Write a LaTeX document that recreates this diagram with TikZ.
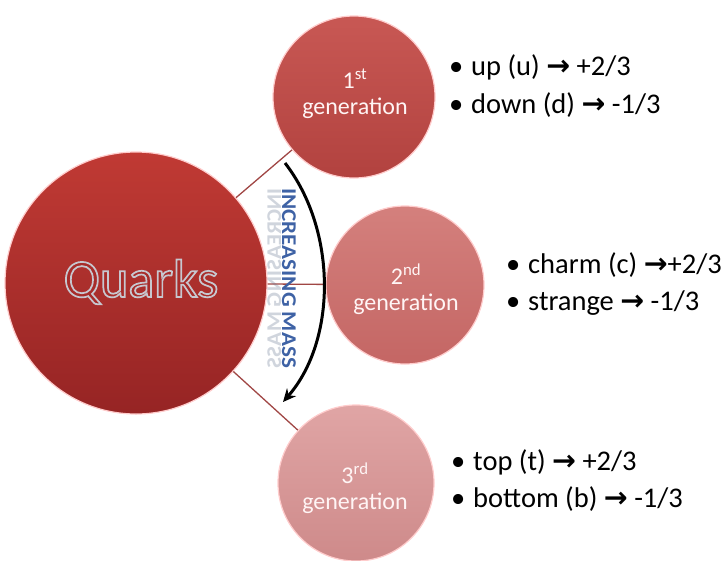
\documentclass[tikz,border=0pt]{standalone}
\usepackage{fontspec}
\setmainfont{Carlito}
\newfontfamily\arrowfont{DejaVu Sans}
\newfontfamily\quarkfont[FakeBold=3.2]{Carlito}
\usepackage{graphicx}
\usetikzlibrary{arrows.meta}
\definecolor{qtop}{RGB}{192,58,52}
\definecolor{qbot}{RGB}{150,36,36}
\definecolor{gAtop}{RGB}{200,88,84}
\definecolor{gAbot}{RGB}{178,66,63}
\definecolor{gBtop}{RGB}{212,128,125}
\definecolor{gBbot}{RGB}{196,102,100}
\definecolor{gCtop}{RGB}{224,165,165}
\definecolor{gCbot}{RGB}{206,138,138}
\definecolor{connred}{RGB}{160,70,68}
\definecolor{massblue}{RGB}{62,98,165}
\definecolor{quarkfill}{RGB}{168,44,42}
\newcommand{\arr}{{\arrowfont\bfseries →}}
\newcommand{\bul}{\makebox[22pt][l]{•}}
\newcommand{\outlinetext}[1]{{\quarkfont\textcolor{quarkfill}{\special{pdf:literal direct 0.78 0.78 0.81 RG}#1}}}
\begin{document}
\begin{tikzpicture}[x=1pt,y=-1pt,
  ball/.style={circle, inner sep=0pt, draw=white!80!red, line width=1.2pt,
    align=center, text=white!96!red, font=\fontsize{24}{26}\selectfont},
  conn/.style={draw=connred, line width=1.3pt},
  item/.style={anchor=base west, inner sep=0pt, font=\fontsize{28.5}{30}\selectfont},
  masstext/.style={rotate=-90, anchor=base, inner sep=0pt,
    font=\bfseries\fontsize{21}{21}\selectfont},
]
\useasboundingbox (0,0) rectangle (727,560);

% circles
\node[ball, minimum size=262pt, top color=qtop, bottom color=qbot] (q) at (136,283) {};
\node[ball, minimum size=162pt, top color=gAtop, bottom color=gAbot] (g1) at (354,97) {};
\node[ball, minimum size=158pt, top color=gBtop, bottom color=gBbot] (g2) at (405,285) {};
\node[ball, minimum size=156pt, top color=gCtop, bottom color=gCbot] (g3) at (356,483) {};

% circle labels
\node[ball, draw=none] (t1) at (355,94) {1\textsuperscript{st}\\generation};
\node[ball, draw=none] (t2) at (406,289) {2\textsuperscript{nd}\\generation};
\node[ball, draw=none] (t3) at (355,488) {3\textsuperscript{rd}\\generation};

% connectors
\draw[conn] (q) -- (g1);
\draw[conn] (q) -- (g2);
\draw[conn] (q) -- (g3);

% Quarks label
\node[anchor=base, inner sep=0pt, font=\fontsize{54}{54}\selectfont] (qt) at (141,297)
  {\outlinetext{Quarks}};

% increasing mass text and its reflection
\node[masstext, text=massblue] (mass) at (282,278) {\scalebox{1.1}[1]{INCREASING MASS}};
\begin{scope}[shift={(281,278)}, xscale=-1]
  \node[masstext, transform shape, text=massblue!40!gray, opacity=0.3] (massr) at (0,0)
    {\scalebox{1.1}[1]{INCREASING MASS}};
\end{scope}

% curved arrow
\coordinate (as) at (285,163);
\coordinate (ae) at (283,402);
\draw[line width=3pt, -{Stealth[length=13pt,width=12pt]}]
  (as) .. controls (337,230) and (337,340) .. (ae);

% bullet lists
\node[item] (a1) at (449,75) {\bul up (u) \arr\ +2/3};
\node[item] (a2) at (449,113) {\bul down (d) \arr\ -1/3};
\node[item] (b1) at (506,273) {\bul charm (c) \arr+2/3};
\node[item] (b2) at (506,310) {\bul strange \arr\ -1/3};
\node[item] (c1) at (451,470) {\bul top (t) \arr\ +2/3};
\node[item] (c2) at (451,507) {\bul bottom (b) \arr\ -1/3};
\end{tikzpicture}
\end{document}
